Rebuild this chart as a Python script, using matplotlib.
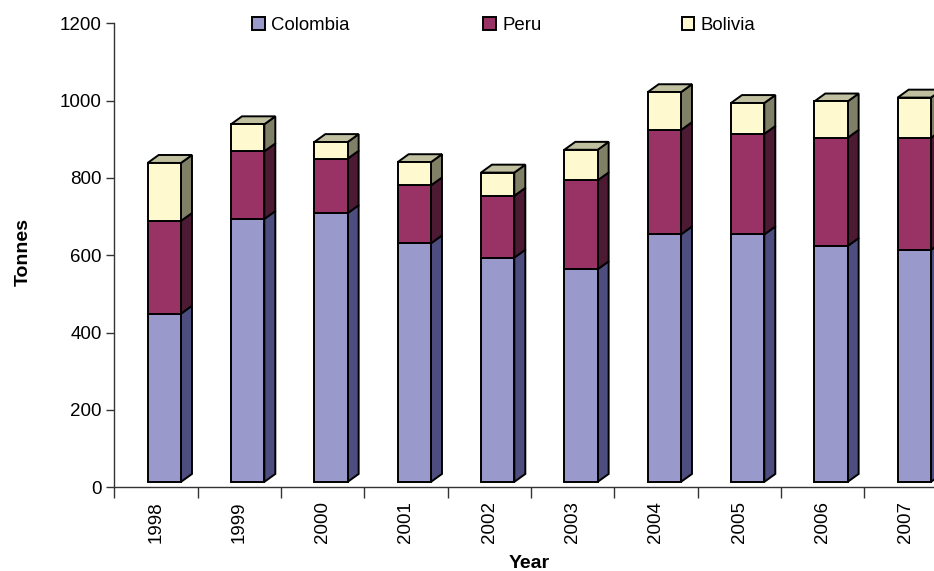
import matplotlib
matplotlib.use("Agg")
import matplotlib.pyplot as plt
from matplotlib.patches import Polygon, Rectangle

plt.rcParams['font.family'] = ['Liberation Sans', 'DejaVu Sans']

years = ["1998", "1999", "2000", "2001", "2002", "2003", "2004", "2005", "2006", "2007"]
colombia = [435, 680, 695, 617, 580, 550, 640, 640, 610, 600]
peru = [240, 175, 141, 150, 160, 230, 270, 260, 280, 290]
bolivia = [150, 70, 43, 60, 60, 79, 98, 80, 94, 104]

series = [("Colombia", colombia), ("Peru", peru), ("Bolivia", bolivia)]
# front, side, top shades for each series
shades = {
    "Colombia": ("#9999cc", "#4d4d80", "#7373a6"),
    "Peru": ("#993366", "#4d1a33", "#73264d"),
    "Bolivia": ("#fff9d0", "#808066", "#c0c0a0"),
}

W, H = 934, 571
fig = plt.figure(figsize=(W / 100, H / 100), dpi=100)
ax = fig.add_axes([0.1224, 0.1466, 0.8922, 0.8125])
ax.set_xlim(0, len(years))
ax.set_ylim(0, 1200)

# pseudo-3D geometry (data units)
x0, x1 = 0.40, 0.80      # front face within each category slot
ddx, ddy = 0.132, 20.5   # depth offset of the side/top faces
base = 14.0              # front face sits slightly above the floor edge
lw = 1.4

for i in range(len(years)):
    bottom = base
    n = len(series)
    for k, (name, vals) in enumerate(series):
        v = vals[i]
        front, side, top = shades[name]
        xl, xr = i + x0, i + x1
        yb, yt = bottom, bottom + v
        ax.add_patch(Polygon([(xr, yb), (xr + ddx, yb + ddy), (xr + ddx, yt + ddy), (xr, yt)],
                             closed=True, facecolor=side, edgecolor="black", lw=lw,
                             joinstyle="miter", zorder=2))
        ax.add_patch(Rectangle((xl, yb), xr - xl, v, facecolor=front,
                               edgecolor="black", lw=lw, joinstyle="miter", zorder=3))
        if k == n - 1:
            ax.add_patch(Polygon([(xl, yt), (xr, yt), (xr + ddx, yt + ddy), (xl + ddx, yt + ddy)],
                                 closed=True, facecolor=top, edgecolor="black", lw=lw,
                                 joinstyle="miter", zorder=2))
        bottom = yt

# axes styling
for s in ("top", "right"):
    ax.spines[s].set_visible(False)
for s in ("left", "bottom"):
    ax.spines[s].set_color("#333333")
    ax.spines[s].set_linewidth(1.0)
    ax.spines[s].set_zorder(1)

ax.set_yticks(range(0, 1201, 200))
ax.tick_params(axis="y", direction="out", length=6, width=1.0, color="#333333",
               labelsize=13.5, pad=3)

ax.set_xticks(range(len(years) + 1))
ax.set_xticklabels([])
ax.tick_params(axis="x", which="major", direction="out", length=8, width=1.0, color="#333333")
ax.set_xticks([i + 0.5 for i in range(len(years))], minor=True)
ax.set_xticklabels(years, minor=True, rotation=90, fontsize=13.5)
ax.tick_params(axis="x", which="minor", length=0, pad=10)

# axis titles
fig.text(15 / W, 1 - 252.5 / H, "Tonnes", fontsize=14, fontweight="bold",
         rotation=90, ha="left", va="center")
fig.text(529.5 / W, 1 - 568.3 / H, "Year", fontsize=14, fontweight="bold",
         ha="center", va="baseline")

# legend row across the top
sq = 12.7
legend_x = [252.3, 483.3, 681.7]
legend_y = 23.8
for (name, _), lx in zip(series, legend_x):
    fig.add_artist(Rectangle((lx / W, 1 - (legend_y + sq / 2) / H), sq / W, sq / H,
                             transform=fig.transFigure, facecolor=shades[name][0],
                             edgecolor="black", lw=1.4))
    fig.text((lx + sq + 6.5) / W, 1 - legend_y / H, name, fontsize=13.4,
             ha="left", va="center_baseline")

fig.savefig("out.png", dpi=100)
